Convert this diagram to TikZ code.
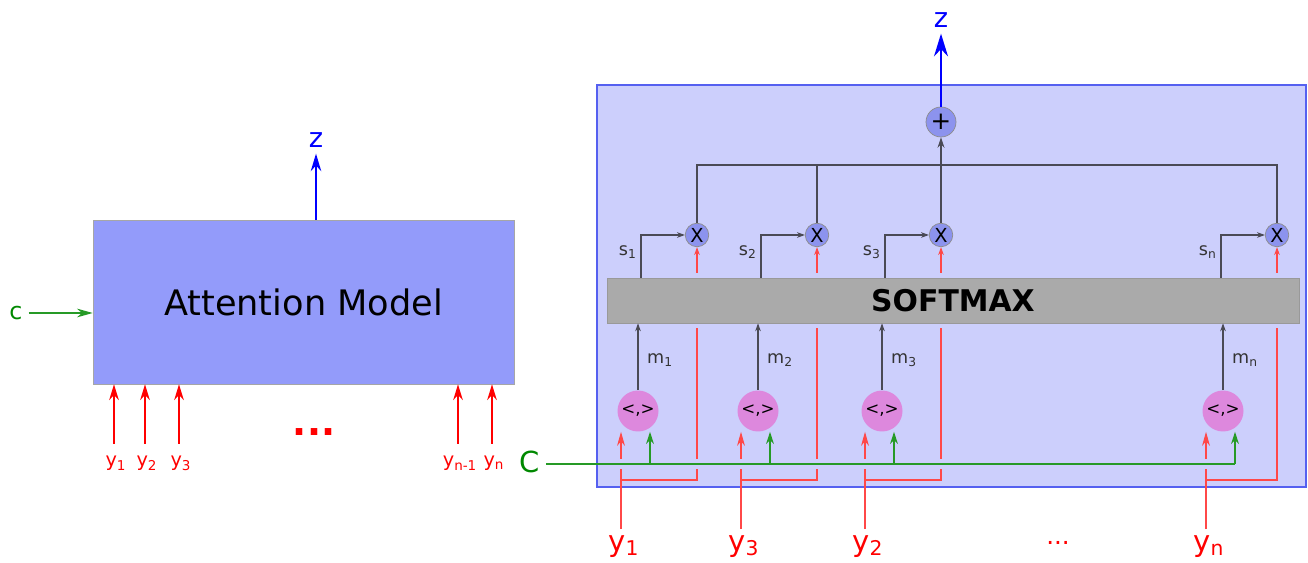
\documentclass[tikz,border=0pt]{standalone}
\usepackage{fontspec}
\setmainfont{DejaVu Sans}
\usepackage{tikz}
\usetikzlibrary{arrows.meta, positioning, calc}
\definecolor{modelblue}{HTML}{939BFA}
\definecolor{panelbg}{HTML}{CCCFFC}
\definecolor{panelline}{HTML}{5560F0}
\definecolor{opblue}{HTML}{8C93EE}
\definecolor{dotpink}{HTML}{DD88DD}
\definecolor{smgray}{HTML}{AAAAAA}
\definecolor{inred}{HTML}{FF4848}
\definecolor{ctxgreen}{HTML}{008800}
\definecolor{wiregray}{HTML}{4A4A55}

\begin{document}
\begin{tikzpicture}[x=0.02cm, y=-0.02cm,
  model/.style={rectangle, draw=gray!70, fill=modelblue, minimum width=8.42cm, minimum height=3.28cm, font=\fontsize{20}{24}\selectfont},
  panel/.style={rectangle, draw=panelline, line width=0.8pt, fill=panelbg, minimum width=14.18cm, minimum height=8.04cm},
  softmax/.style={rectangle, draw=gray!80, fill=smgray, minimum width=13.84cm, minimum height=0.9cm, font=\fontsize{17}{20}\selectfont\bfseries},
  mulop/.style={circle, draw=gray!90, fill=opblue, minimum size=0.47cm, inner sep=0pt, font=\fontsize{11}{11}\selectfont},
  sumop/.style={mulop, minimum size=0.6cm, font=\fontsize{14}{14}\selectfont},
  dotop/.style={circle, fill=dotpink, minimum size=0.82cm, inner sep=0pt, font=\fontsize{9.5}{10}\selectfont},
  biglabel/.style={font=\fontsize{16.5}{18}\selectfont},
  ysmall/.style={text=red, font=\fontsize{11}{12}\selectfont},
  slabel/.style={text=black!80, font=\fontsize{10}{11}\selectfont},
  wire/.style={draw=wiregray, line width=0.6pt},
  smallarrow/.style={wire, -{Stealth[length=4.5pt, width=3.2pt]}},
  redline/.style={draw=inred, line width=0.6pt},
  redarrow/.style={redline, -{Stealth[length=8pt, width=4.5pt]}},
  redsmall/.style={redline, -{Stealth[length=4.5pt, width=3.2pt]}},
  redlarge/.style={draw=red, line width=0.7pt, -{Stealth[length=9pt, width=5.5pt]}},
  greenline/.style={draw=ctxgreen!85, line width=0.7pt},
  greenarrow/.style={greenline, -{Stealth[length=7pt, width=4.5pt]}},
  bluearrow/.style={draw=blue, line width=0.8pt, -{Stealth[length=10pt, width=6pt]}}
]
  \useasboundingbox (0,0) rectangle (1308,563);

  % left: the model as a black box
  \node[model] (model) at (303.5,302) {Attention Model};
  \node[biglabel, text=blue, font=\fontsize{15.5}{16}\selectfont] (zl) at (316,140) {z};
  \node[text=ctxgreen, font=\fontsize{13.5}{14}\selectfont] (cl) at (16,313) {c};
  \draw[bluearrow] (zl |- model.north) -- (zl.south);
  \draw[greenline, -{Stealth[length=9pt, width=5pt]}] (cl.east) -- (cl -| model.west);
  \foreach \x/\t [count=\i] in {114/1, 145/2, 179/3, 458/{n-1}, 492/n} {
    \coordinate (yin\i) at (\x,444);
    \node[ysmall, anchor=north] (ylab\i) at (\x+2,450) {y\textsubscript{\t}};
    \draw[redlarge] (yin\i) -- (yin\i |- model.south);
  }
  \node[text=red, font=\fontsize{21}{21}\selectfont\bfseries] (ldots) at (314,432) {...};

  % right: inside the model
  \node[panel] (panel) at (951.5,286) {};
  \node[softmax] (softmax) at (953,300.5) {SOFTMAX};
  \node[sumop] (plus) at (941,122) {+};
  \node[biglabel, text=blue, font=\fontsize{15.5}{16}\selectfont] (zr) at (941,20) {z};
  \node[biglabel, text=ctxgreen] (cin) at (530,462) {C};
  \coordinate (bus) at (941,165);

  \foreach \mx/\px/\t/\y [count=\i] in {697/638/1/1, 817/758/2/3, 941/882/3/2, 1277/1223/n/n} {
    \node[mulop] (mul\i) at (\mx,235) {X};
    \node[dotop] (dot\i) at (\px,411) {<,>};
    \coordinate (sx\i) at (\mx-56,235);
    \coordinate (r\i) at (\px-17,480);
    \coordinate (g\i) at (\px+12,464);
    \node[slabel, anchor=east] (s\i) at (\mx-54,252) {s\textsubscript{\t}};
    \node[slabel, anchor=west] (m\i) at (\px+3,360) {m\textsubscript{\t}};
    \node[biglabel, text=red, anchor=north] (y\i) at (\px-14,529) {y\textsubscript{\y}};
    \draw[smallarrow] (sx\i |- softmax.north) |- (mul\i.west);
    \draw[smallarrow] (dot\i.north) -- (dot\i |- softmax.south);
    \draw[redsmall, shorten <=2.8pt] (mul\i |- softmax.north) -- (mul\i.south);
    \draw[redarrow] (r\i |- y\i.north) -- (dot\i.south -| r\i);
    \draw[redline, shorten >=2.8pt] (r\i) -| (mul\i |- softmax.south);
  }

  % sum of the weighted inputs
  \draw[wire] (mul1.north) |- (bus) -| (mul4.north);
  \draw[wire] (mul2.north) -- (mul2 |- bus);
  \draw[wire, -{Stealth[length=6pt, width=4pt]}] (mul3.north) -- (plus.south);
  \draw[bluearrow, -{Stealth[length=13pt, width=8pt]}] (plus.north) -- (zr.south);

  % context vector
  \draw[draw=panelbg, line width=6pt] ([xshift=2pt]panel.west |- g4) -- (g4);
  \draw[greenline] (cin.east |- g4) -- (g4);
  \foreach \i in {1,...,4}
    \draw[greenarrow] (g\i) -- (dot\i.south -| g\i);

  \node[text=red, font=\fontsize{14}{14}\selectfont] (rdots) at (1058,543) {...};
\end{tikzpicture}
\end{document}
